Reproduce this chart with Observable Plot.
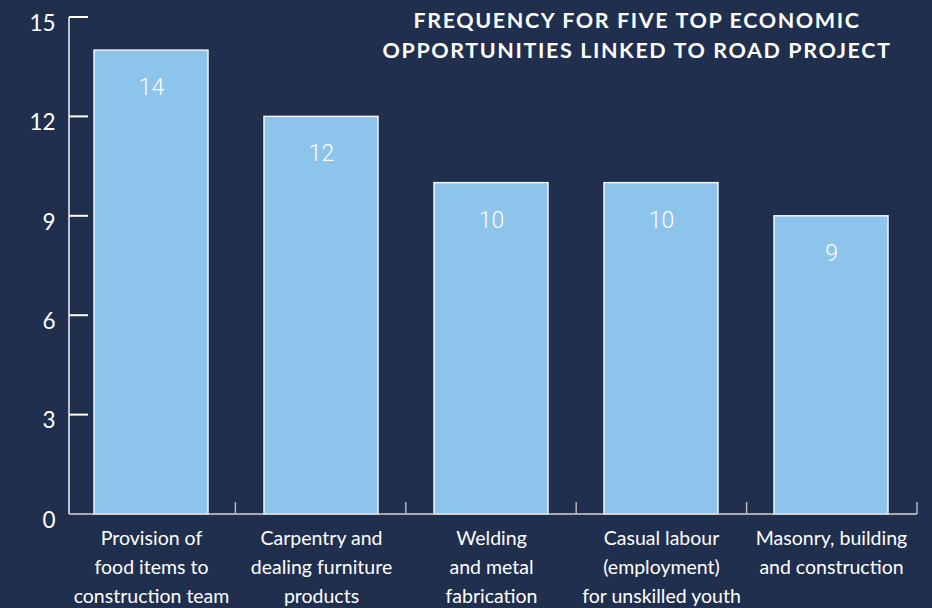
<!DOCTYPE html>
<html>
<head>
<meta charset="utf-8">
<script src="https://cdn.jsdelivr.net/npm/d3@7"></script>
<script src="https://cdn.jsdelivr.net/npm/@observablehq/plot@0.6"></script>
<style>
  html, body { margin: 0; padding: 0; background: #212f4e; }
  #wrap { position: relative; width: 932px; height: 608px; overflow: hidden; }
  #title { position: absolute; left: 337px; width: 600px; top: 5px; text-align: center;
    color: #fff; font-family: Lato, "Open Sans", sans-serif; font-weight: 700; font-size: 21.5px; line-height: 30px; letter-spacing: 1.6px; }
</style>
</head>
<body>
<div id="wrap">
  <div id="chart"></div>
  <div id="title">FREQUENCY FOR FIVE TOP ECONOMIC<br>OPPORTUNITIES LINKED TO ROAD PROJECT</div>
</div>
<script>
const categories = ["Provision of food items to construction team", "Carpentry and dealing furniture products", "Welding and metal fabrication", "Casual labour (employment) for unskilled youth", "Masonry, building and construction"];
const tickLabels = ["Provision of\nfood items to\nconstruction team", "Carpentry and\ndealing furniture\nproducts", "Welding\nand metal\nfabrication", "Casual labour\n(employment)\nfor unskilled youth", "Masonry, building\nand construction"];
const values = [14, 12, 10, 10, 9];
const yTicks = [0, 3, 6, 9, 12, 15];

const data = categories.map((c, i) => ({category: c, value: values[i]}));
const labelOf = new Map(categories.map((c, i) => [c, tickLabels[i]]));

const W = 932, H = 608, ML = 65, MR = 15, MT = 17, MB = 94;

function axes(index, scales, values, dims) {
  const g = d3.create("svg:g");
  const y = scales.y;
  const x0 = dims.marginLeft + 4;
  const step = (dims.width - dims.marginLeft - dims.marginRight) / categories.length;
  g.append("line").attr("x1", x0).attr("x2", x0).attr("y1", y(15)).attr("y2", y(0))
    .attr("stroke", "#e6e6e6").attr("stroke-width", 1.6);
  for (const t of yTicks.slice(1)) {
    g.append("line").attr("x1", x0).attr("x2", x0 + 19).attr("y1", y(t)).attr("y2", y(t))
      .attr("stroke", "#ffffff").attr("stroke-width", 2);
  }
  const right = dims.width - dims.marginRight;
  g.append("line").attr("x1", x0).attr("x2", right).attr("y1", y(0)).attr("y2", y(0))
    .attr("stroke", "#d4d4d4").attr("stroke-width", 1.6);
  for (let i = 1; i <= categories.length; i++) {
    const bx = dims.marginLeft + step * i;
    g.append("line").attr("x1", bx).attr("x2", bx).attr("y1", y(0)).attr("y2", y(0) - 12)
      .attr("stroke", "#bdbdbd").attr("stroke-width", 1.4);
  }
  return g.node();
}

const chart = Plot.plot({
  width: W, height: H,
  marginLeft: ML, marginRight: MR, marginTop: MT, marginBottom: MB,
  style: {background: "transparent", color: "#fff", fontFamily: "Lato, 'Open Sans', sans-serif"},
  x: {domain: categories, paddingInner: 0.33, paddingOuter: 0.165, align: 0.5},
  y: {domain: [0, 15], ticks: yTicks},
  marks: [
    Plot.barY(data, {x: "category", y: "value", fill: "#8cc4eb", stroke: "#eef6fc", strokeWidth: 1.5}),
    Plot.text(data, {x: "category", y: "value", text: d => String(d.value), dy: 37, fill: "#fff", fontSize: 23, fontFamily: "Roboto, sans-serif", fontWeight: 300}),
    axes,
    Plot.axisY({ticks: yTicks, tickSize: 0, tickPadding: 10, fontSize: 22.5, dy: 6, fill: "#fff", label: null, fontFamily: "Lato, sans-serif"}),
    Plot.axisX({tickSize: 0, tickPadding: 10, fontSize: 19.5, lineHeight: 1.49, fill: "#fff", label: null, tickFormat: d => labelOf.get(d), fontFamily: "Lato, sans-serif"})
  ]
});
document.getElementById("chart").appendChild(chart);
</script>
</body>
</html>
